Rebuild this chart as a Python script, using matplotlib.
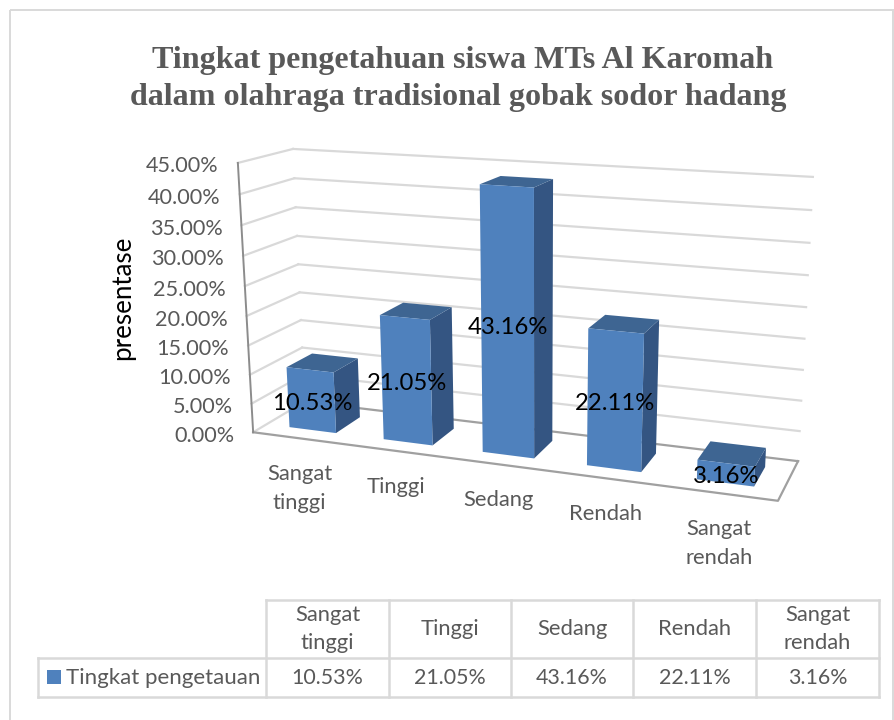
import numpy as np
import matplotlib
matplotlib.use('Agg')
import matplotlib.pyplot as plt
from matplotlib.patches import Polygon, Rectangle

# ---------------------------
# Data
# ---------------------------
categories = ['Sangat\ntinggi', 'Tinggi', 'Sedang', 'Rendah', 'Sangat\nrendah']
values = [10.53, 21.05, 43.16, 22.11, 3.16]
y_ticks = [0, 5, 10, 15, 20, 25, 30, 35, 40, 45]
series_name = 'Tingkat pengetauan'
title_lines = ['Tingkat pengetahuan siswa MTs Al Karomah',
               'dalam olahraga tradisional gobak sodor hadang']
y_label = 'presentase'

# ---------------------------
# Colours and layout
# ---------------------------
FRONT = '#4F81BD'
TOP = '#3E6592'
SIDE = '#345582'
GRID = '#D9D9D9'
AXIS = '#A0A0A0'
TEXT = '#595959'
MAIN_FONT = 'Lato'
GAP = 0.25

# pixel positions of the 3D box corners: (category, depth, value) -> (x, y)
calib = [
    ((0, 0, 0), (253, 432)),
    ((5, 0, 0), (778, 501)),
    ((5, 1, 0), (798, 461)),
    ((0, 1, 0), (305, 402)),
    ((0, 0, 45), (238, 163)),
    ((0, 1, 45), (293, 149)),
    ((5, 1, 45), (813, 177)),
    ((0, 1, 25), (298, 264)),
    ((5, 1, 25), (806, 307)),
]


def fit_camera(points):
    rows, rhs = [], []
    for (c, d, v), (u, w) in points:
        X = [c, d, v, 1]
        rows.append(X + [0, 0, 0, 0] + [-u * c, -u * d, -u * v])
        rhs.append(u)
        rows.append([0, 0, 0, 0] + X + [-w * c, -w * d, -w * v])
        rhs.append(w)
    p = np.linalg.lstsq(np.array(rows, float), np.array(rhs, float), rcond=None)[0]
    return np.append(p, 1.0).reshape(3, 4)


CAM = fit_camera(calib)


def proj(c, d, v):
    u, w, s = CAM @ np.array([c, d, v, 1.0])
    return u / s, w / s


fig = plt.figure(figsize=(8.94, 7.2), dpi=100)
ax = fig.add_axes([0, 0, 1, 1])
ax.set_xlim(0, 894)
ax.set_ylim(720, 0)
ax.axis('off')

# outer chart border
ax.add_patch(Rectangle((9.5, 10), 883, 730, fill=False, ec='#D9D9D9', lw=1.4))

ax.text(463, 68, title_lines[0], family='Liberation Serif', weight='bold', fontsize=23.1,
        color=TEXT, ha='center', va='baseline')
ax.text(458, 105, title_lines[1], family='Liberation Serif', weight='bold', fontsize=23.1,
        color=TEXT, ha='center', va='baseline')

# ---------------------------
# Walls, gridlines, floor
# ---------------------------
for t in y_ticks:
    p0, p1, p2 = proj(0, 0, t), proj(0, 1, t), proj(5, 1, t)
    col = AXIS if t == 0 else GRID
    ax.plot([p0[0], p1[0]], [p0[1], p1[1]], color=GRID, lw=1.6, zorder=1)
    ax.plot([p1[0], p2[0]], [p1[1], p2[1]], color=col, lw=1.6, zorder=1)
    ax.text(p0[0] - 19, p0[1] + 3.5, f'{t:.2f}%', family=MAIN_FONT, fontsize=15.6, color=TEXT,
            ha='right', va='center')

floor = [proj(0, 0, 0), proj(5, 0, 0), proj(5, 1, 0)]
ax.plot(*zip(*floor), color=AXIS, lw=1.6, zorder=1)
ax.plot(*zip(proj(0, 0, 0), proj(0, 0, 45)), color='#8C8C8C', lw=1.4, zorder=1)

ax.text(123, 298, y_label, family=MAIN_FONT, fontsize=18.6, color='black',
        rotation=90, ha='center', va='center')

# ---------------------------
# Bars
# ---------------------------
for i, (cat, val) in enumerate(zip(categories, values)):
    x0, x1 = i + GAP, i + 1 - GAP
    d0, d1 = GAP, 1 - GAP
    side = [proj(x1, d0, 0), proj(x1, d1, 0), proj(x1, d1, val), proj(x1, d0, val)]
    top = [proj(x0, d0, val), proj(x1, d0, val), proj(x1, d1, val), proj(x0, d1, val)]
    front = [proj(x0, d0, 0), proj(x1, d0, 0), proj(x1, d0, val), proj(x0, d0, val)]
    ax.add_patch(Polygon(side, fc=SIDE, ec='none', zorder=3))
    ax.add_patch(Polygon(top, fc=TOP, ec='none', zorder=3))
    ax.add_patch(Polygon(front, fc=FRONT, ec='none', zorder=3))

    lx, ly = proj(i + 0.5, d0, val / 2)
    ax.text(lx + 0.5, ly + 3, f'{val:.2f}%', family=MAIN_FONT, fontsize=17.2, color='black',
            ha='center', va='center', zorder=5)

    ex, ey = proj(i + 0.5, 0, 0)
    ax.text(ex, ey + 26, cat, family=MAIN_FONT, fontsize=15.8, color=TEXT,
            ha='center', va='top', linespacing=1.55)

# ---------------------------
# Data table
# ---------------------------
col_x = [266, 389, 511, 633, 756, 879]
row_y = [600, 658, 696.5]
legend_left = 38
for x in col_x:
    ax.plot([x, x], [row_y[0], row_y[2]], color=GRID, lw=1.8, zorder=1)
ax.plot([legend_left, legend_left], [row_y[1], row_y[2]], color=GRID, lw=1.8, zorder=1)
ax.plot([col_x[0], col_x[-1]], [row_y[0], row_y[0]], color=GRID, lw=1.8, zorder=1)
ax.plot([legend_left, col_x[-1]], [row_y[1], row_y[1]], color=GRID, lw=1.8, zorder=1)
ax.plot([legend_left, col_x[-1]], [row_y[2], row_y[2]], color=GRID, lw=1.8, zorder=1)

for i, (cat, val) in enumerate(zip(categories, values)):
    cx = (col_x[i] + col_x[i + 1]) / 2
    ax.text(cx, (row_y[0] + row_y[1]) / 2, cat, family=MAIN_FONT, fontsize=15.8, color=TEXT,
            ha='center', va='center', linespacing=1.5)
    ax.text(cx, (row_y[1] + row_y[2]) / 2 + 0.5, f'{val:.2f}%', family=MAIN_FONT, fontsize=15.4,
            color=TEXT, ha='center', va='center')

ax.add_patch(Rectangle((47, 670), 14, 14, fc=FRONT, ec='none'))
ax.text(66, (row_y[1] + row_y[2]) / 2 + 0.5, series_name, family=MAIN_FONT, fontsize=16,
        color=TEXT, ha='left', va='center')

fig.savefig('out.png', dpi=100)
